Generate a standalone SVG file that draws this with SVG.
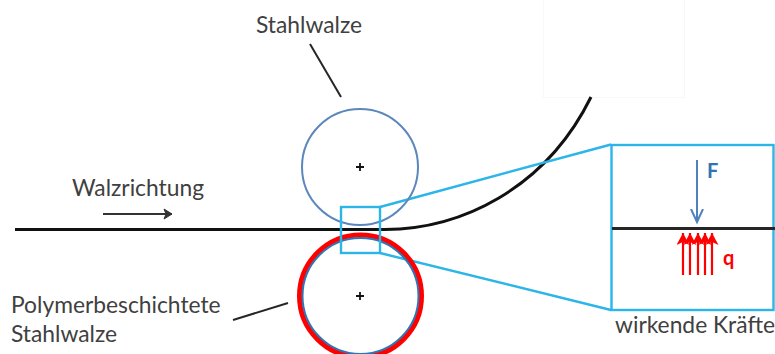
<svg xmlns="http://www.w3.org/2000/svg" width="775" height="354" viewBox="0 0 775 354">
<defs>
<style>
text{font-family:Lato,"Noto Sans","Liberation Sans",sans-serif;font-size:22.800px;fill:#404040}
.leader{stroke:#262626;stroke-width:2;fill:none}
.zoom{stroke:#2cb5e8;stroke-width:2.400;fill:none}
.strip{stroke:#111;fill:none}
.q{stroke:#f00;stroke-width:2.200;fill:none;marker-end:url(#qh)}
.bf{font-weight:700;font-size:20px}
</style>
<marker id="qh" markerUnits="userSpaceOnUse" markerWidth="14" markerHeight="14" refX="12" refY="6.500" orient="auto"><path d="M0 0L12 6.500L0 13L3 6.500Z" fill="#f00"/></marker>
<marker id="fh" markerUnits="userSpaceOnUse" markerWidth="16" markerHeight="14" refX="13" refY="6.500" orient="auto"><path d="M0 0.500L13 6.500L0 12.500" fill="none" stroke="#4f81bd" stroke-width="2"/></marker>
<marker id="wh" markerUnits="userSpaceOnUse" markerWidth="14" markerHeight="14" refX="9" refY="6" orient="auto"><path d="M1 1L9 6L1 11L3 6Z" fill="#333" stroke="#333"/></marker>
</defs>
<rect width="775" height="354" fill="#fff"/>
<path d="M543.500 0V97.500H684.500V0" fill="none" stroke="#f8f8f8"/>
<g id="connectors">
<path class="strip" stroke-width="3" d="M15 229.500H385C460 229 545 190 591 97"/>
<path class="leader" d="M310 44L341 97"/>
<path class="leader" d="M233 320L288 303"/>
<path d="M103 214H172" stroke="#333" stroke-width="2.200" fill="none" marker-end="url(#wh)"/>
<path class="zoom" d="M380 207L611 144.500M380 253L611 310"/>
</g>
<g id="stahlwalze">
<circle cx="360" cy="167" r="58" fill="none" stroke="#5b87bd" stroke-width="2"/>
<path d="M360 163V171M356 167H364" stroke="#111" stroke-width="1.800"/>
<text x="256" y="33">Stahlwalze</text>
</g>
<g id="polymerwalze">
<circle cx="360.500" cy="296" r="61" fill="none" stroke="#f00" stroke-width="5"/>
<circle cx="360.500" cy="296" r="58" fill="none" stroke="#2e75b6" stroke-width="2"/>
<path d="M360 292V300M356 296H364" stroke="#111" stroke-width="1.800"/>
<text x="11" y="313">Polymerbeschichtete</text>
<text x="11" y="342">Stahlwalze</text>
</g>
<g id="walzrichtung"><text x="72" y="196">Walzrichtung</text></g>
<g id="ausschnitt"><rect class="zoom" x="341" y="207" width="39" height="46"/></g>
<g id="kraefte">
<rect class="zoom" x="611.500" y="145" width="162" height="165"/>
<path d="M612 228.500H775" stroke="#262626" stroke-width="3" fill="none"/>
<path d="M697 160V222" stroke="#4f81bd" stroke-width="2" fill="none" marker-end="url(#fh)"/>
<text class="bf" x="707" y="178" style="fill:#2e75b6">F</text>
<path class="q" d="M683 275V233"/><path class="q" d="M690 275V233"/><path class="q" d="M698 275V233"/><path class="q" d="M705 275V233"/><path class="q" d="M712 275V233"/>
<text class="bf" x="723" y="265" style="fill:#f00">q</text>
<text x="615" y="333">wirkende Kräfte</text>
</g>
</svg>
